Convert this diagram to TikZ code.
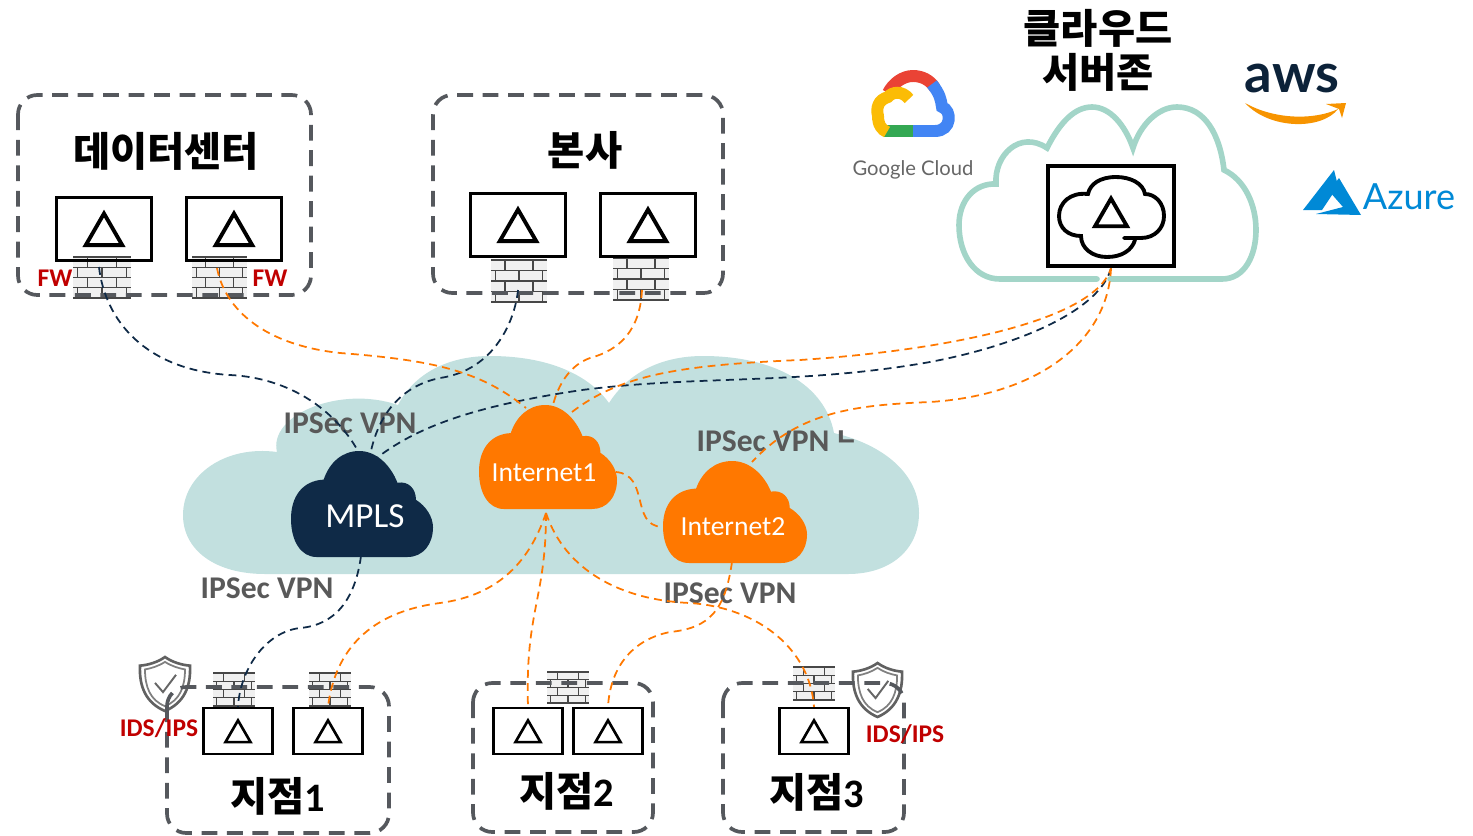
\documentclass[tikz,border=0pt]{standalone}
\usepackage{fontspec}
\setmainfont{Carlito}
\newfontfamily\krfont{Noto Sans CJK KR}
\newfontfamily\logofont{Lato}
\usetikzlibrary{shapes.geometric}
\definecolor{netnavy}{HTML}{0F2A47}
\definecolor{netorange}{HTML}{FF7800}
\definecolor{nettint}{HTML}{C2E0DF}
\definecolor{netmint}{HTML}{A3D5C8}
\definecolor{sitegray}{HTML}{55585D}
\definecolor{labelgray}{HTML}{595959}
\definecolor{alertred}{HTML}{C00000}
\definecolor{azureblue}{HTML}{0089D6}
\definecolor{gcpred}{HTML}{EA4335}
\definecolor{gcpblue}{HTML}{4285F4}
\definecolor{gcpyellow}{HTML}{FBBC05}
\definecolor{gcpgreen}{HTML}{34A853}
\definecolor{awsorange}{HTML}{F79400}
\tikzset{
  sitebox/.style={draw=sitegray,line width=2.1pt,rounded corners=11pt,dash pattern=on 9pt off 5.5pt},
  navylink/.style={draw=netnavy,line width=1pt,dash pattern=on 4.5pt off 3pt},
  orangelink/.style={draw=netorange,line width=1pt,dash pattern=on 4.5pt off 3pt},
  gwbig/.style={draw=black,line width=2pt,inner sep=0pt,minimum width=54pt,minimum height=36pt},
  gwsmall/.style={draw=black,line width=1.5pt,inner sep=0pt,minimum width=39pt,minimum height=26pt},
  tribig/.style={draw=black,line width=2.2pt,regular polygon,regular polygon sides=3,inner sep=0pt,minimum size=24pt},
  trismall/.style={draw=black,line width=1.5pt,regular polygon,regular polygon sides=3,inner sep=0pt,minimum size=16.5pt},
  sitetitle/.style={font=\bfseries\fontsize{23}{25}\selectfont,align=center},
  vpntext/.style={font=\bfseries\fontsize{18}{20}\selectfont,text=labelgray},
  redtext/.style={font=\bfseries\fontsize{14.5}{16}\selectfont,text=alertred},
  cloudtext/.style={text=white,font=\fontsize{15.7}{17}\selectfont},
  netcloud/.pic={
   \fill[pic actions] (.18,1) .. controls (.07,1) and (0,.85) .. (0,.64)
    .. controls (0,.43) and (.08,.28) .. (.23,.27)
    .. controls (.27,.11) and (.36,0) .. (.48,0)
    .. controls (.6,0) and (.7,.13) .. (.75,.30)
    .. controls (.83,.28) and (.88,.36) .. (.88,.46)
    .. controls (.95,.52) and (1,.62) .. (1,.72)
    .. controls (1,.88) and (.93,1) .. (.82,1) -- cycle;
  },
  brickwall/.pic={
   \fill[black!6] (0,0) rectangle (1,1);
   \foreach \j in {0,.25,.5,.75,1}
    \draw[black!72,line width=0.8pt] (0,\j) -- (1,\j);
   \foreach \i in {.25,.75} {
    \draw[black!72,line width=0.8pt] (\i,0) -- (\i,.25);
    \draw[black!72,line width=0.8pt] (\i,.5) -- (\i,.75);
   }
   \foreach \i in {.08,.5,.92} {
    \draw[black!72,line width=0.8pt] (\i,.25) -- (\i,.5);
    \draw[black!72,line width=0.8pt] (\i,.75) -- (\i,1);
   }
  },
  guardshield/.pic={
   \draw[black!62,line width=1.5pt] (.5,0) .. controls (.35,.1) and (.15,.15) .. (0,.16)
    .. controls (-.02,.55) and (.12,.85) .. (.5,1)
    .. controls (.88,.85) and (1.02,.55) .. (1,.16)
    .. controls (.85,.15) and (.65,.1) .. (.5,0) -- cycle;
   \draw[black!50,line width=1pt] (.5,.09) .. controls (.37,.17) and (.22,.21) .. (.1,.23)
    .. controls (.1,.55) and (.2,.8) .. (.5,.91)
    .. controls (.8,.8) and (.9,.55) .. (.9,.23)
    .. controls (.78,.21) and (.63,.17) .. (.5,.09) -- cycle;
   \draw[black!60,line width=1.1pt] (.3,.48) -- (.46,.65) -- (.72,.33);
  }
}

\begin{document}
\begin{tikzpicture}[x=0.02cm,y=-0.02cm]
   \useasboundingbox (0,0) rectangle (1473,835);

   \fill[nettint] (265,574) .. controls (215,574) and (183,550) .. (183,515)
    .. controls (183,475) and (225,445) .. (277,452)
    .. controls (268,415) and (340,385) .. (398,405)
    .. controls (415,372) and (450,356) .. (490,356)
    .. controls (540,356) and (585,370) .. (609,403)
    .. controls (630,370) and (665,356) .. (703,356)
    .. controls (775,356) and (825,385) .. (834,433)
    .. controls (885,445) and (919,475) .. (919,513)
    .. controls (919,550) and (890,574) .. (848,574) -- cycle;

   \pic[xscale=58,yscale=41] at (73,257) {brickwall};
   \pic[xscale=55,yscale=41] at (192,257) {brickwall};
   \pic[xscale=56,yscale=42] at (491,260) {brickwall};
   \pic[xscale=56,yscale=42] at (613,258) {brickwall};
   \pic[xscale=42,yscale=33] at (213,673) {brickwall};
   \pic[xscale=42,yscale=33] at (309,673) {brickwall};
   \pic[xscale=42,yscale=31] at (547,672) {brickwall};
   \pic[xscale=42,yscale=33] at (793,667) {brickwall};
   \pic[xscale=50,yscale=54] at (140,657) {guardshield};
   \pic[xscale=49,yscale=54] at (853,663) {guardshield};

   \draw[sitebox] (18,95) rectangle (311,295);
   \draw[sitebox] (433,95) rectangle (723,293);
   \draw[sitebox] (167,687) rectangle (389,833);
   \draw[sitebox] (473,683) rectangle (653,832);
   \draw[sitebox] (723,683) rectangle (904,832);

   \foreach \n/\x/\y in {dca/104/229,dcb/234/229,hqa/518/225,hqb/648/225} {
    \node[gwbig] (\n) at (\x,\y) {};
    \node[tribig] (\n tri) at ([yshift=-3.2pt]\n) {};
   }
   \foreach \n/\x/\y in {bra/238/731,brb/328/731,brc/528/731,brd/608/731,bre/814/731} {
    \node[gwsmall] (\n) at (\x,\y) {};
    \node[trismall] (\n tri) at ([yshift=-2.2pt]\n) {};
   }

   \node[sitetitle] (dctitle) at (166,151) {\krfont 데이터센터};
   \node[sitetitle] (hqtitle) at (585,150) {\krfont 본사};
   \node[sitetitle] (cloudtitle) at (1098,50) {\krfont 클라우드\\\krfont 서버존};
   \node[sitetitle] (brtitlea) at (278,796) {{\krfont 지점}1};
   \node[sitetitle] (brtitleb) at (567,791) {{\krfont 지점}2};
   \node[sitetitle] (brtitlec) at (817,792) {{\krfont 지점}3};

   \node[redtext] (fwa) at (55,278) {FW};
   \node[redtext] (fwb) at (270,278) {FW};
   \node[redtext] (idsa) at (159,728) {IDS/IPS};
   \node[redtext] (idsb) at (905,734) {IDS/IPS};

   \draw[netmint,line width=3.2pt,line cap=round] (1097,279) -- (1000,279)
    .. controls (975,279) and (959,255) .. (959,225)
    .. controls (959,200) and (975,183) .. (996,184)
    .. controls (994,155) and (1020,130) .. (1047,148)
    .. controls (1060,122) and (1075,107) .. (1092,107)
    .. controls (1110,107) and (1125,125) .. (1133,148)
    .. controls (1140,125) and (1158,107) .. (1177,107)
    .. controls (1205,107) and (1220,135) .. (1224,170)
    .. controls (1245,180) and (1256,205) .. (1256,230)
    .. controls (1256,255) and (1245,279) .. (1222,279) -- (1110,279);

   \node[draw=black,line width=2.5pt,inner sep=0pt,minimum width=72pt,minimum height=57pt] (cldgw) at (1111,216) {};
   \draw[black,line width=2.2pt,line cap=round] (1124,238) -- (1141,238)
    .. controls (1155,238) and (1164,228) .. (1164,216)
    .. controls (1164,203) and (1155,194) .. (1145,194)
    .. controls (1143,183) and (1130,177) .. (1116,177)
    .. controls (1100,177) and (1090,184) .. (1088,194)
    .. controls (1070,192) and (1059,203) .. (1059,216)
    .. controls (1059,228) and (1068,236) .. (1081,236)
    .. controls (1081,248) and (1092,257) .. (1107,257)
    .. controls (1122,257) and (1132,250) .. (1135,240);
   \node[draw=black,line width=2.2pt,regular polygon,regular polygon sides=3,inner sep=0pt,minimum size=21pt] (cldtri) at (1111,217) {};

   \node[vpntext] (vpna) at (350,423) {IPSec VPN};
   \node[vpntext] (vpnb) at (763,441) {IPSec VPN};
   \node[vpntext] (vpnc) at (267,588) {IPSec VPN};
   \node[vpntext] (vpnd) at (730,593) {IPSec VPN};
   \node[font=\krfont\bfseries\fontsize{14}{15}\selectfont,text=labelgray] (vpnmark) at (847,439) {ㄴ};

   \coordinate (dcfwa) at (99,267);
   \coordinate (dcfwb) at (217,268);
   \coordinate (hqfwa) at (518,290);
   \coordinate (hqfwb) at (642,290);
   \coordinate (mplsa) at (358,451);
   \coordinate (mplsb) at (371,451);
   \coordinate (mplsc) at (378,457);
   \coordinate (mplsd) at (361,556);
   \coordinate (ineta) at (526,408);
   \coordinate (inetb) at (553,405);
   \coordinate (inetc) at (572,412);
   \coordinate (inetd) at (616,472);
   \coordinate (inete) at (546,513);
   \coordinate (intra) at (752,462);
   \coordinate (intrb) at (662,527);
   \coordinate (intrc) at (732,562);

   \draw[navylink] (dcfwa) .. controls (105,320) and (145,370) .. (230,375)
    .. controls (290,378) and (335,410) .. (mplsa);
   \draw[navylink] (hqfwa) .. controls (515,320) and (495,370) .. (440,378)
    .. controls (405,385) and (380,410) .. (mplsb);
   \draw[navylink] (cldgw.south) .. controls (1100,310) and (1020,345) .. (930,362)
    .. controls (800,385) and (700,375) .. (582,390)
    .. controls (480,405) and (420,425) .. (mplsc);
   \draw[navylink] (mplsd) .. controls (355,600) and (335,625) .. (300,628)
    .. controls (265,632) and (240,670) .. (bra.north);
   \draw[orangelink] (dcfwb) .. controls (225,310) and (265,345) .. (340,353)
    .. controls (430,360) and (480,370) .. (ineta);
   \draw[orangelink] (hqfwb) .. controls (640,330) and (620,350) .. (590,358)
    .. controls (570,365) and (558,385) .. (inetb);
   \draw[orangelink] (inetc) .. controls (620,375) and (680,365) .. (800,360)
    .. controls (950,350) and (1095,320) .. (cldgw.south);
   \draw[orangelink] (cldgw.south) .. controls (1108,340) and (1040,395) .. (930,402)
    .. controls (860,405) and (800,410) .. (intra);
   \draw[orangelink] (inetd) .. controls (650,475) and (630,525) .. (intrb);
   \draw[orangelink] (inete) .. controls (530,560) and (500,595) .. (440,603)
    .. controls (370,612) and (335,650) .. (brb.north);
   \draw[orangelink] (inete) .. controls (546,600) and (525,610) .. (brc.north);
   \draw[orangelink] (inete) .. controls (565,570) and (620,600) .. (690,603)
    .. controls (760,608) and (810,650) .. (bre.north);
   \draw[orangelink] (intrc) .. controls (725,610) and (710,628) .. (670,632)
    .. controls (630,640) and (610,670) .. (brd.north);

   \pic[netnavy,xscale=142,yscale=106] at (291,451) {netcloud};
   \pic[netorange,xscale=138,yscale=104] at (479,405) {netcloud};
   \pic[netorange,xscale=144,yscale=102] at (663,461) {netcloud};
   \node[cloudtext,font=\fontsize{20}{22}\selectfont] (mpls) at (365,516) {MPLS};
   \node[cloudtext] (inet1) at (544,473) {Internet1};
   \node[cloudtext] (inet2) at (733,527) {Internet2};

   \draw[line width=6.8pt,color=gcpred] (888,93) .. controls (893,83) and (903,76) .. (913,76)
    .. controls (922,76) and (930,80) .. (935,88);
   \draw[line width=6.8pt,color=gcpblue] (932,84) .. controls (940,94) and (941,100) .. (942,107)
    .. controls (952,110) and (952,131) .. (935,131) -- (912,131);
   \draw[line width=6.8pt,color=gcpgreen] (884,131) -- (913,131);
   \draw[line width=6.8pt,color=gcpyellow] (909,99) .. controls (902,90) and (892,92) .. (888,97)
    .. controls (878,100) and (876,108) .. (878,116)
    .. controls (878,125) and (882,130) .. (887,132);
   \node[font=\logofont\fontsize{11.5}{13}\selectfont,text=black!60] (gcptext) at (913,170) {Google Cloud};

   \node[font=\logofont\bfseries\fontsize{31}{33}\selectfont,text=netnavy!80!black] (awstext) at (1292,78) {aws};
   \fill[awsorange] (1245,103) .. controls (1275,120) and (1315,120) .. (1338,109)
    .. controls (1322,130) and (1270,130) .. (1245,103);
   \fill[awsorange] (1326,104) -- (1346,103) -- (1342,118) -- (1339,109) -- cycle;

   \fill[azureblue] (1334,170) -- (1303,210) -- (1322,210) -- (1338,186) -- cycle;
   \fill[azureblue] (1339,178) -- (1361,215) -- (1316,214) -- (1343,207) -- (1329,191) -- cycle;
   \node[font=\logofont\fontsize{20.5}{22}\selectfont,text=azureblue] (azuretext) at (1409,197) {Azure};
\end{tikzpicture}
\end{document}
